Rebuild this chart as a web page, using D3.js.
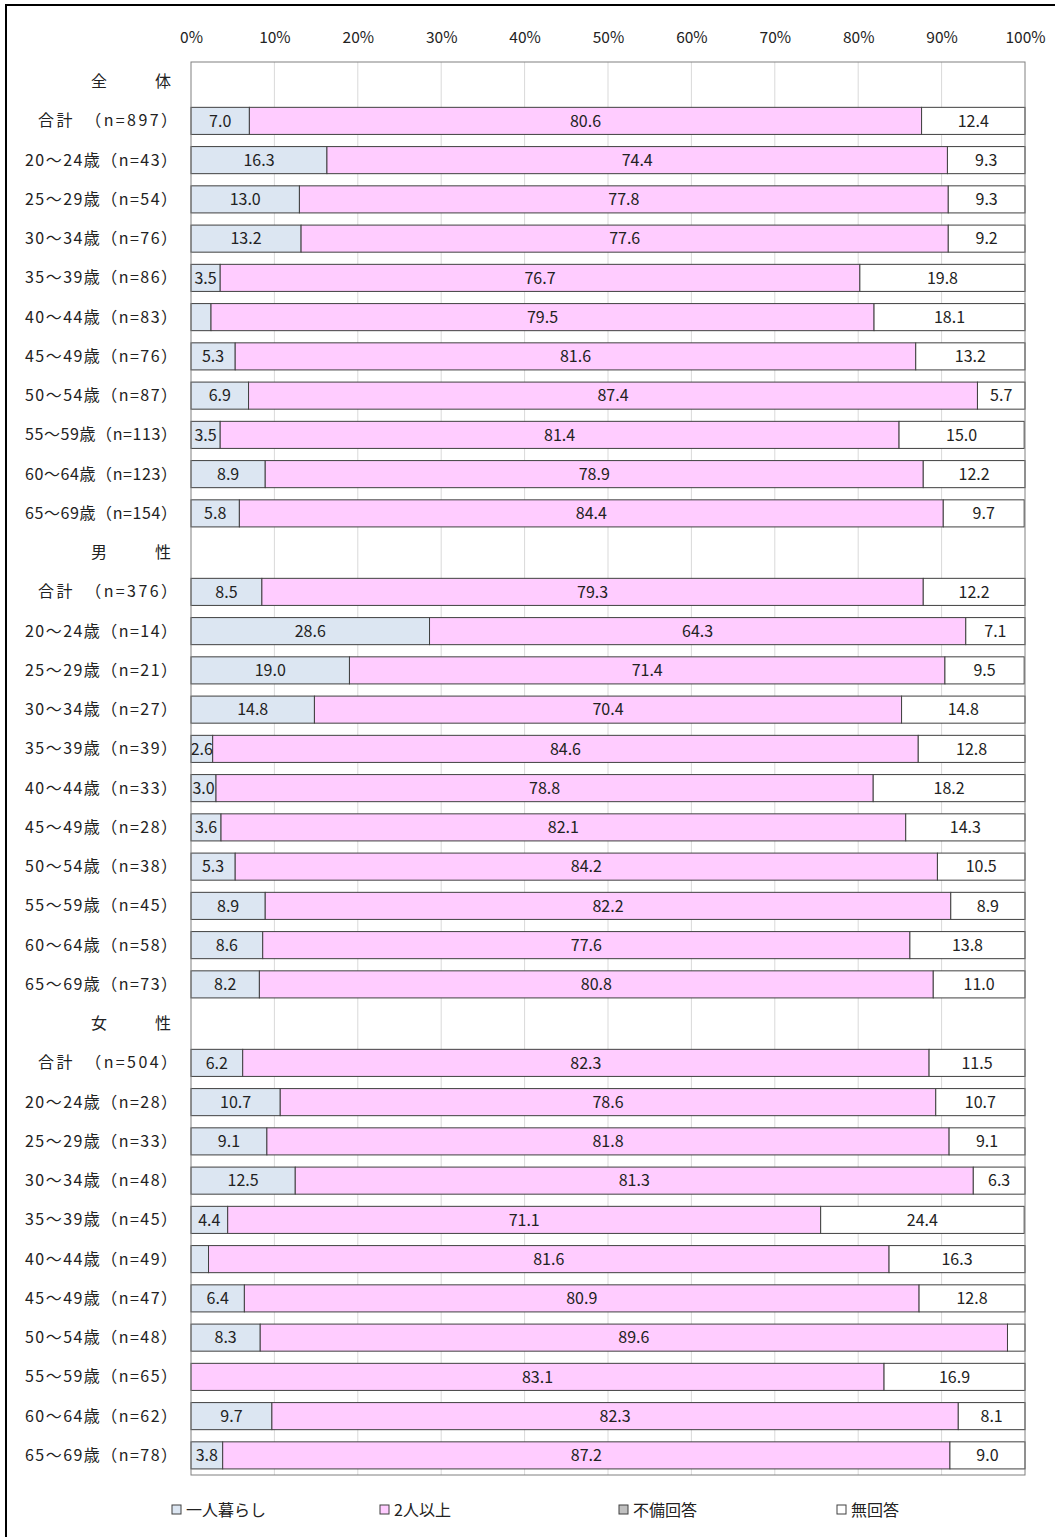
<!DOCTYPE html>
<html>
<head>
<meta charset="utf-8">
<script src="https://cdn.jsdelivr.net/npm/d3@7"></script>
<style>
  body { margin: 0; background: #fff; }
  text { font-family: "Noto Sans CJK JP", "Noto Sans", sans-serif; fill: #222; }
</style>
</head>
<body>
<div id="chart"></div>
<script>
// row labels (header rows have no data)
var rows = [
	"全　　　体",
	"合計　（n=897）", "20～24歳（n=43）", "25～29歳（n=54）", "30～34歳（n=76）", "35～39歳（n=86）",
	"40～44歳（n=83）", "45～49歳（n=76）", "50～54歳（n=87）", "55～59歳（n=113）", "60～64歳（n=123）", "65～69歳（n=154）",
	"男　　　性",
	"合計　（n=376）", "20～24歳（n=14）", "25～29歳（n=21）", "30～34歳（n=27）", "35～39歳（n=39）",
	"40～44歳（n=33）", "45～49歳（n=28）", "50～54歳（n=38）", "55～59歳（n=45）", "60～64歳（n=58）", "65～69歳（n=73）",
	"女　　　性",
	"合計　（n=504）", "20～24歳（n=28）", "25～29歳（n=33）", "30～34歳（n=48）", "35～39歳（n=45）",
	"40～44歳（n=49）", "45～49歳（n=47）", "50～54歳（n=48）", "55～59歳（n=65）", "60～64歳（n=62）", "65～69歳（n=78）"
];

var series = ["一人暮らし", "2人以上", "不備回答", "無回答"];
var colors = ["#dce6f2", "#ffccff", "#c0c0c0", "#ffffff"];

// null = header row
var single = [null, 7.0, 16.3, 13.0, 13.2, 3.5, 2.4, 5.3, 6.9, 3.5, 8.9, 5.8,
	null, 8.5, 28.6, 19.0, 14.8, 2.6, 3.0, 3.6, 5.3, 8.9, 8.6, 8.2,
	null, 6.2, 10.7, 9.1, 12.5, 4.4, 2.1, 6.4, 8.3, 0.0, 9.7, 3.8];
var multi = [null, 80.6, 74.4, 77.8, 77.6, 76.7, 79.5, 81.6, 87.4, 81.4, 78.9, 84.4,
	null, 79.3, 64.3, 71.4, 70.4, 84.6, 78.8, 82.1, 84.2, 82.2, 77.6, 80.8,
	null, 82.3, 78.6, 81.8, 81.3, 71.1, 81.6, 80.9, 89.6, 83.1, 82.3, 87.2];
var invalid = [null, 0, 0, 0, 0, 0, 0, 0, 0, 0, 0, 0,
	null, 0, 0, 0, 0, 0, 0, 0, 0, 0, 0, 0,
	null, 0, 0, 0, 0, 0, 0, 0, 0, 0, 0, 0];
var noAnswer = [null, 12.4, 9.3, 9.3, 9.2, 19.8, 18.1, 13.2, 5.7, 15.0, 12.2, 9.7,
	null, 12.2, 7.1, 9.5, 14.8, 12.8, 18.2, 14.3, 10.5, 8.9, 13.8, 11.0,
	null, 11.5, 10.7, 9.1, 6.3, 24.4, 16.3, 12.8, 2.1, 16.9, 8.1, 9.0];

var ticks = [0, 10, 20, 30, 40, 50, 60, 70, 80, 90, 100];

var W = 1055, H = 1537;
var plotLeft = 191, plotRight = 1025, plotTop = 62, plotBottom = 1475;

var svg = d3.select("#chart").append("svg")
	.attr("width", W)
	.attr("height", H);

// outer frame
svg.append("rect")
	.attr("x", 6).attr("y", 5)
	.attr("width", W + 10).attr("height", H + 10)
	.attr("fill", "none")
	.attr("stroke", "#000")
	.attr("stroke-width", 2);

var x = d3.scaleLinear().domain([0, 100]).range([plotLeft, plotRight]);
var y = d3.scaleBand().domain(d3.range(rows.length)).range([plotTop, plotBottom]).paddingInner(0.31).paddingOuter(0.155);

// gridlines
svg.append("g").selectAll("line")
	.data(ticks.slice(1, -1))
	.enter().append("line")
	.attr("x1", function(d) { return x(d); })
	.attr("x2", function(d) { return x(d); })
	.attr("y1", plotTop).attr("y2", plotBottom)
	.attr("stroke", "#d9d9d9");

// top axis labels
var xAxis = d3.axisTop(x).tickValues(ticks).tickSize(0).tickFormat(function(d) { return d + "%"; });
var ax = svg.append("g")
	.attr("transform", "translate(0," + 46 + ")")
	.call(xAxis);
ax.select(".domain").remove();
ax.selectAll("text")
	.style("font-family", '"Noto Sans CJK JP", sans-serif')
	.style("font-size", "15.5px")
	.attr("fill", "#222")
	.attr("dy", 0);

// row labels
function isHeader(i) { return single[i] === null; }

svg.append("g").selectAll("text")
	.data(rows)
	.enter().append("text")
	.attr("x", function(d, i) { return isHeader(i) ? 171 : 177; })
	.attr("y", function(d, i) { return y(i) + y.bandwidth() / 2; })
	.attr("dy", "0.35em")
	.attr("text-anchor", "end")
	.attr("textLength", function(d, i) {
		if (isHeader(i)) return null;
		return d.indexOf("歳") >= 0 ? 152 : 139;
	})
	.attr("lengthAdjust", "spacing")
	.style("font-size", "16px")
	.style("white-space", "pre")
	.text(function(d) { return d; });

// stacked data
var table = rows.map(function(r, i) {
	return { i: i, vals: [single[i], multi[i], invalid[i], noAnswer[i]] };
}).filter(function(d) { return d.vals[0] !== null; });

var segs = [];
table.forEach(function(d) {
	var acc = 0;
	d.vals.forEach(function(v, k) {
		segs.push({ row: d.i, k: k, x0: acc, x1: acc + v, v: v });
		acc += v;
	});
});

svg.append("g").selectAll("rect")
	.data(segs.filter(function(s) { return s.v > 0; }))
	.enter().append("rect")
	.attr("x", function(s) { return x(s.x0); })
	.attr("width", function(s) { return x(Math.min(s.x1, 100)) - x(s.x0); })
	.attr("y", function(s) { return y(s.row); })
	.attr("height", y.bandwidth())
	.attr("fill", function(s) { return colors[s.k]; })
	.attr("stroke", "#404040")
	.attr("stroke-width", 1);

svg.append("g").selectAll("text")
	.data(segs.filter(function(s) { return s.v >= 2.5; }))
	.enter().append("text")
	.attr("x", function(s) { return x((s.x0 + Math.min(s.x1, 100)) / 2); })
	.attr("y", function(s) { return y(s.row) + y.bandwidth() / 2; })
	.attr("dy", "0.36em")
	.attr("text-anchor", "middle")
	.style("font-size", "16px")
	.text(function(s) { return s.v.toFixed(1); });

// plot border
svg.append("rect")
	.attr("x", plotLeft).attr("y", plotTop)
	.attr("width", plotRight - plotLeft).attr("height", plotBottom - plotTop)
	.attr("fill", "none")
	.attr("stroke", "#808080");

// legend
var legendX = [172, 380, 619, 837];
var lg = svg.append("g").selectAll("g")
	.data(series)
	.enter().append("g")
	.attr("transform", function(d, i) { return "translate(" + legendX[i] + "," + 1510 + ")"; });
lg.append("rect")
	.attr("x", 0).attr("y", -5)
	.attr("width", 9).attr("height", 9)
	.attr("fill", function(d, i) { return colors[i]; })
	.attr("stroke", "#404040");
lg.append("text")
	.attr("x", 14)
	.attr("dy", "0.35em")
	.style("font-size", "16px")
	.text(function(d) { return d; });
</script>
</body>
</html>
